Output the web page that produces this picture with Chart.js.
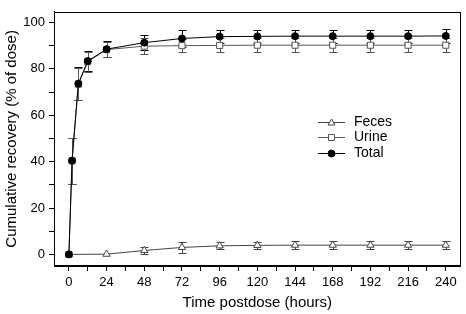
<!DOCTYPE html>
<html>
<head>
<meta charset="utf-8">
<script src="https://cdn.jsdelivr.net/npm/chart.js@4.4.1/dist/chart.umd.min.js"></script>
<style>
  html, body { margin: 0; padding: 0; background: #fff; }
  #wrap { width: 466px; height: 314px; }
</style>
</head>
<body>
<div id="wrap"><canvas id="recoveryChart"></canvas></div>
<script>
// Time points (hours) and cumulative recovery (% of dose), mean and SD
const hours = [0, 2, 6, 12, 24, 48, 72, 96, 120, 144, 168, 192, 216, 240];
const totalMean = [0, 40.4, 73.6, 83.4, 88.5, 91.3, 93.1, 93.9, 94.0, 94.1, 94.1, 94.1, 94.1, 94.2];
const totalSd = [0, 10, 7, 4.3, 3.5, 3.3, 3.7, 2.7, 2.8, 2.8, 2.8, 2.8, 2.8, 3.0];
const urineMean = [0, 40.4, 73.4, 83.1, 88.3, 89.8, 90.0, 90.1, 90.2, 90.2, 90.2, 90.2, 90.2, 90.2];
const urineSd = [0, 10, 7, 4.3, 3.4, 3.4, 2.9, 3.0, 3.0, 3.0, 3.0, 3.0, 3.0, 3.0];
const fecesHours = [0, 24, 48, 72, 96, 120, 144, 168, 192, 216, 240];
const fecesMean = [0, 0.1, 1.7, 3.0, 3.7, 3.9, 4.0, 4.0, 4.0, 4.0, 4.0];
const fecesSd = [0, 0, 1.7, 2.5, 1.5, 1.6, 1.8, 1.7, 1.7, 1.7, 1.7];

const xTicks = [0, 24, 48, 72, 96, 120, 144, 168, 192, 216, 240];
const yTicks = [0, 20, 40, 60, 80, 100];

const FONT = 'Liberation Sans, Arial, Helvetica, sans-serif';

function toPoints(xs, ys, sds) {
    return xs.map((x, i) => ({ x: x, y: ys[i], sd: sds[i] }));
}

// Error bars, drawn under the lines and markers
const errorBars = {
    id: 'errorBars',
    beforeDatasetsDraw(chart) {
        const { ctx, scales: { x, y } } = chart;
        ctx.save();
        ctx.lineWidth = 1;
        chart.data.datasets.forEach(ds => {
            ctx.strokeStyle = ds.borderColor;
            ds.data.forEach(p => {
                if (!p.sd) return;
                const px = Math.round(x.getPixelForValue(p.x)) + 0.5;
                const top = Math.round(y.getPixelForValue(p.y + p.sd)) + 0.5;
                const bot = Math.round(y.getPixelForValue(p.y - p.sd)) + 0.5;
                ctx.beginPath();
                ctx.moveTo(px, top); ctx.lineTo(px, bot);
                ctx.moveTo(px - 4, top); ctx.lineTo(px + 4, top);
                ctx.moveTo(px - 4, bot); ctx.lineTo(px + 4, bot);
                ctx.stroke();
            });
        });
        ctx.restore();
    }
};

// Frame round the plot and the small legend inside it
const frameAndLegend = {
    id: 'frameAndLegend',
    afterDraw(chart) {
        const { ctx, chartArea: a } = chart;
        ctx.save();
        ctx.strokeStyle = '#000';
        ctx.lineWidth = 1;
        ctx.strokeRect(Math.round(a.left) + 0.5, Math.round(a.top) + 0.5,
            Math.round(a.right - a.left) - 1, Math.round(a.bottom - a.top) - 1);

        const rows = [
            { label: 'Feces', color: '#444', style: 'triangle', fill: '#fff' },
            { label: 'Urine', color: '#555', style: 'rect', fill: '#fff' },
            { label: 'Total', color: '#000', style: 'circle', fill: '#000' }
        ];
        const lx = 318, ly = 122, gap = 15.3;
        ctx.font = '14px ' + FONT;
        ctx.textBaseline = 'middle';
        rows.forEach((r, i) => {
            const yy = Math.round(ly + i * gap) + 0.5;
            ctx.strokeStyle = r.color;
            ctx.beginPath();
            ctx.moveTo(lx, yy); ctx.lineTo(lx + 27, yy);
            ctx.stroke();
            const cx = lx + 13.5;
            ctx.fillStyle = r.fill;
            ctx.beginPath();
            if (r.style === 'circle') {
                ctx.arc(cx, yy, 3.5, 0, Math.PI * 2);
            } else if (r.style === 'rect') {
                ctx.rect(cx - 3, yy - 3, 6, 6);
            } else {
                ctx.moveTo(cx, yy - 3.5); ctx.lineTo(cx + 3.5, yy + 2.5); ctx.lineTo(cx - 3.5, yy + 2.5); ctx.closePath();
            }
            ctx.fill();
            ctx.stroke();
            ctx.fillStyle = '#000';
            ctx.fillText(r.label, lx + 36, yy);
        });
        ctx.restore();
    }
};

new Chart(document.getElementById('recoveryChart'), {
    type: 'scatter',
    data: {
        datasets: [
            {
                label: 'Total',
                data: toPoints(hours, totalMean, totalSd),
                showLine: true,
                borderColor: '#000',
                borderWidth: 1,
                backgroundColor: '#000',
                pointStyle: 'circle',
                pointRadius: 3.5,
                pointBorderWidth: 1,
                order: 0
            },
            {
                label: 'Urine',
                data: toPoints(hours, urineMean, urineSd),
                showLine: true,
                borderColor: '#555',
                borderWidth: 1,
                backgroundColor: '#fff',
                pointStyle: 'rect',
                pointRadius: 4.3,
                pointBorderWidth: 1,
                order: 1
            },
            {
                label: 'Feces',
                data: toPoints(fecesHours, fecesMean, fecesSd),
                showLine: true,
                borderColor: '#444',
                borderWidth: 1,
                backgroundColor: '#fff',
                pointStyle: 'triangle',
                pointRadius: 4.2,
                pointBorderWidth: 1,
                order: 2
            }
        ]
    },
    options: {
        responsive: true,
        maintainAspectRatio: false,
        animation: false,
        layout: { padding: { top: 2, right: 3, left: 0, bottom: 0 } },
        plugins: {
            legend: { display: false },
            tooltip: { enabled: false }
        },
        elements: { line: { tension: 0 } },
        scales: {
            x: {
                type: 'linear',
                min: -9.5,
                max: 249.5,
                afterBuildTicks: axis => {
                    const t = [];
                    for (let h = 0; h <= 240; h += 12) t.push({ value: h });
                    axis.ticks = t;
                },
                afterFit: axis => { axis.height = 48; },
                ticks: {
                    color: '#000',
                    font: { family: FONT, size: 13 },
                    padding: 4,
                    maxRotation: 0,
                    autoSkip: false,
                    callback: v => xTicks.includes(v) ? String(v) : ''
                },
                grid: { drawOnChartArea: false, drawTicks: true, tickLength: 5, color: '#000' },
                border: { display: true, color: '#000', width: 1 },
                title: {
                    display: true,
                    text: 'Time postdose (hours)',
                    color: '#000',
                    font: { family: FONT, size: 15 },
                    padding: { top: 0, bottom: 2 }
                }
            },
            y: {
                type: 'linear',
                min: -5,
                max: 104.6,
                afterBuildTicks: axis => {
                    const t = [];
                    for (let v = 0; v <= 100; v += 10) t.push({ value: v });
                    axis.ticks = t;
                },
                afterFit: axis => { axis.width = 54; },
                ticks: {
                    color: '#000',
                    font: { family: FONT, size: 13 },
                    padding: 4,
                    autoSkip: false,
                    callback: v => yTicks.includes(v) ? String(v) : ''
                },
                grid: { drawOnChartArea: false, drawTicks: true, tickLength: 5, color: '#000' },
                border: { display: true, color: '#000', width: 1 },
                title: {
                    display: true,
                    text: 'Cumulative recovery (% of dose)',
                    color: '#000',
                    font: { family: FONT, size: 15 },
                    padding: { top: 3, bottom: 0 }
                }
            }
        }
    },
    plugins: [errorBars, frameAndLegend]
});
</script>
</body>
</html>
